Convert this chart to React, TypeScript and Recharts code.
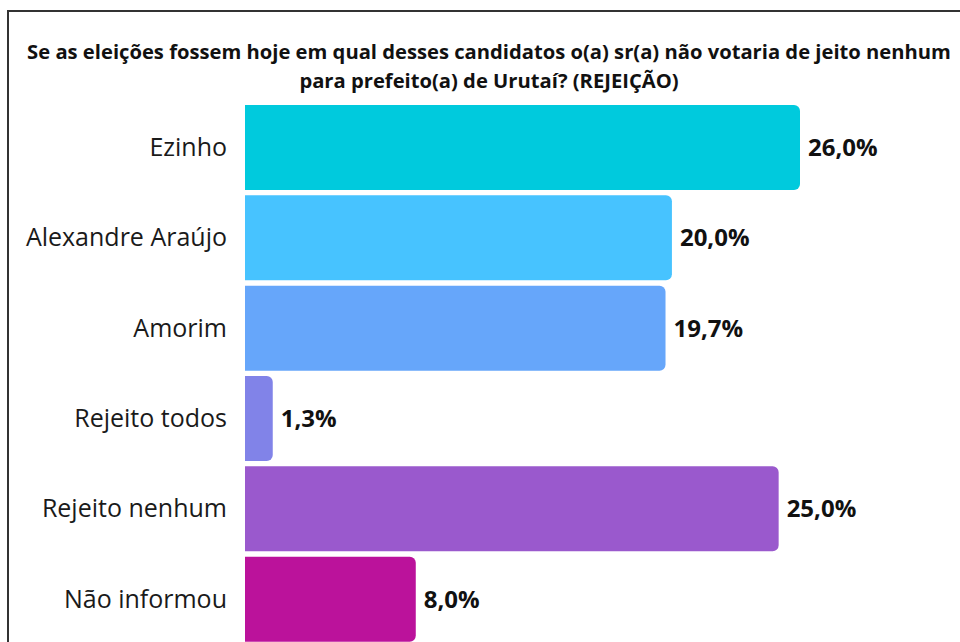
import { BarChart, Bar, XAxis, YAxis, Cell, LabelList } from 'recharts';

const candidates = ['Ezinho', 'Alexandre Araújo', 'Amorim', 'Rejeito todos', 'Rejeito nenhum', 'Não informou'];
const rejection = [26.0, 20.0, 19.7, 1.3, 25.0, 8.0];
const barColors = ['#00CADD', '#47C3FF', '#66A6FA', '#8183E8', '#9A59CD', '#BB129B'];

const data = candidates.map((name, i) => ({ name, value: rejection[i] }));

const formatPct = (v: any) => Number(v).toFixed(1).replace('.', ',') + '%';

export default function App() {
  return (
    <div
      style={{
        position: 'fixed',
        left: 0,
        top: 0,
        width: 960,
        height: 642,
        overflow: 'hidden',
        background: '#fff',
        fontFamily: '"Open Sans", sans-serif',
      }}
    >
      {/* frame runs off the page on the right and bottom */}
      <div
        style={{
          position: 'absolute',
          left: 7,
          top: 10,
          width: 1000,
          height: 700,
          borderTop: '2px solid #333',
          borderLeft: '2px solid #333',
        }}
      />
      <div
        style={{
          position: 'absolute',
          left: 0,
          top: 37,
          width: 978,
          textAlign: 'center',
          fontWeight: 700,
          fontSize: 20.2,
          lineHeight: '28.5px',
          color: '#111',
        }}
      >
        Se as eleições fossem hoje em qual desses candidatos o(a) sr(a) não votaria de jeito nenhum
        <br />
        para prefeito(a) de Urutaí? (REJEIÇÃO)
      </div>
      <div style={{ position: 'absolute', left: 8, top: 8 }}>
        <BarChart
          width={900}
          height={650}
          data={data}
          layout="vertical"
          margin={{ top: 94, right: 108, bottom: 14, left: 0 }}
        >
          <XAxis type="number" domain={[0, 26]} hide />
          <YAxis
            type="category"
            dataKey="name"
            width={237}
            axisLine={false}
            tickLine={false}
            tickSize={0}
            tickMargin={18}
            tick={{ fill: '#1a1a1a', fontSize: 25, fontFamily: '"Open Sans", sans-serif' }}
          />
          <Bar dataKey="value" barSize={85} radius={[0, 6, 6, 0]} isAnimationActive={false}>
            {data.map((d, i) => (
              <Cell key={d.name} fill={barColors[i]} />
            ))}
            <LabelList
              dataKey="value"
              position="right"
              offset={8}
              formatter={formatPct}
              style={{ fill: '#111', fontSize: 24, fontWeight: 700, fontFamily: '"Open Sans", sans-serif' }}
            />
          </Bar>
        </BarChart>
      </div>
    </div>
  );
}
